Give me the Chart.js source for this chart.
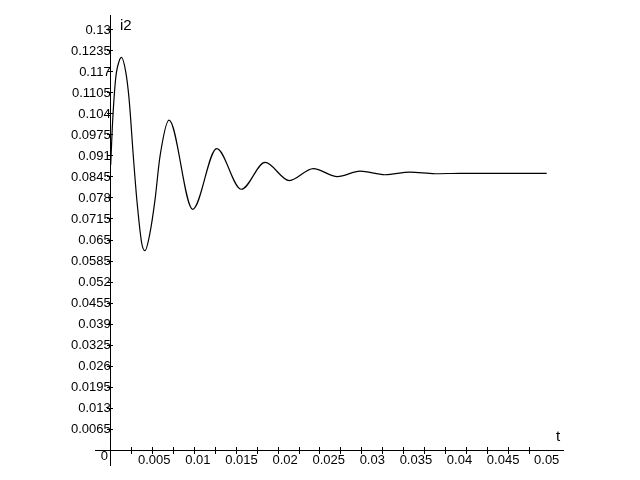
<!DOCTYPE html>
<html>
<head>
<meta charset="utf-8">
<script src="https://cdn.jsdelivr.net/npm/chart.js@4"></script>
<style>
  body { margin: 0; background: #fff; }
  #wrap { width: 640px; height: 480px; }
</style>
</head>
<body>
<div id="wrap"><canvas id="plot" width="640" height="480"></canvas></div>
<script>
const T_VALUES = [0, 0.00018, 0.00057, 0.00095, 0.00124, 0.00172, 0.0021, 0.00262, 0.003, 0.00356,
  0.00393, 0.0045, 0.00508, 0.00565, 0.00669, 0.0094, 0.01216, 0.01498, 0.0177, 0.02048,
  0.02323, 0.026, 0.0286, 0.03146, 0.03432, 0.0372, 0.040, 0.05];
const I2_VALUES = [0.0882, 0.0996, 0.1150, 0.1202, 0.1215, 0.1171, 0.1089, 0.0900, 0.0774, 0.0640,
  0.0617, 0.0671, 0.0774, 0.0908, 0.1021, 0.0745, 0.0933, 0.0807, 0.0890, 0.0834,
  0.0871, 0.0846, 0.0863, 0.0852, 0.0860, 0.0855, 0.08565, 0.08565];

const Y_TICK_LABELS = ['0.0065', '0.013', '0.0195', '0.026', '0.0325', '0.039', '0.0455', '0.052',
  '0.0585', '0.065', '0.0715', '0.078', '0.0845', '0.091', '0.0975', '0.104', '0.1105', '0.117',
  '0.1235', '0.13'];
const X_TICK_LABELS = ['0.005', '0.01', '0.015', '0.02', '0.025', '0.03', '0.035', '0.04', '0.045', '0.05'];

// maple draws its small tick marks on a slightly tighter grid than the labels
const X_MARK_STEP = 0.0024;
const X_MARK_COUNT = 20;

const TICK_FONT = { family: "'Liberation Sans Narrow', 'Liberation Sans', Arial, sans-serif", size: 13 };

const yTicks = Y_TICK_LABELS.map(s => ({ value: parseFloat(s) }));
const xTicks = X_TICK_LABELS.map(s => ({ value: parseFloat(s) }));
const xMarks = [];
for (let k = 1; k <= X_MARK_COUNT; k++) xMarks.push({ value: k * X_MARK_STEP });

const points = T_VALUES.map((t, i) => ({ x: t, y: I2_VALUES[i] }));

const X_MIN = -0.0018, X_MAX = 0.05187;
const Y_MIN = -0.00464, Y_MAX = 0.13464;

const axisTexts = {
  id: 'axisTexts',
  afterDraw(chart) {
    const ctx = chart.ctx;
    ctx.save();
    ctx.fillStyle = '#000';
    ctx.font = "15px 'Liberation Sans', Arial, sans-serif";
    ctx.textBaseline = 'alphabetic';
    ctx.textAlign = 'left';
    ctx.fillText('i2', 120, 30);
    ctx.fillText('t', 556, 441);
    ctx.font = "13px 'Liberation Sans Narrow', 'Liberation Sans', Arial, sans-serif";
    ctx.textAlign = 'right';
    ctx.fillText('0', 108, 460);
    ctx.restore();
  }
};

function markAxis(len, ticks, id) {
  const horizontal = id.startsWith('x');
  return {
    type: 'linear',
    min: horizontal ? X_MIN : Y_MIN,
    max: horizontal ? X_MAX : Y_MAX,
    position: horizontal ? { y: 0 } : { x: 0 },
    afterBuildTicks: s => { s.ticks = ticks.map(t => ({ value: t.value })); },
    ticks: { display: false },
    grid: { drawOnChartArea: false, tickLength: len, color: '#000', lineWidth: 1 },
    border: { display: false },
  };
}

new Chart(document.getElementById('plot'), {
  type: 'line',
  data: {
    datasets: [{
      data: points,
      borderColor: '#000',
      borderWidth: 1.2,
      pointRadius: 0,
      fill: false,
      cubicInterpolationMode: 'monotone',
    }],
  },
  options: {
    responsive: false,
    animation: false,
    layout: { padding: { left: 95, right: 77, top: 15, bottom: 15 } },
    plugins: { legend: { display: false }, tooltip: { enabled: false } },
    scales: {
      x: {
        type: 'linear',
        min: X_MIN,
        max: X_MAX,
        position: { y: 0 },
        afterBuildTicks: s => { s.ticks = xMarks.map(t => ({ value: t.value })); },
        ticks: { display: false },
        grid: { drawOnChartArea: false, tickLength: 3, color: '#000' },
        border: { color: '#000', width: 1 },
      },
      xUp: markAxis(-3, xMarks, 'xUp'),
      xLabels: {
        type: 'linear',
        min: X_MIN,
        max: X_MAX,
        position: { y: 0 },
        afterBuildTicks: s => { s.ticks = xTicks.map(t => ({ value: t.value })); },
        ticks: {
          autoSkip: false,
          maxRotation: 0,
          padding: 3,
          color: '#000',
          font: TICK_FONT,
          callback: (v, i) => X_TICK_LABELS[i],
        },
        grid: { display: false, drawTicks: false },
        border: { display: false },
      },
      y: {
        type: 'linear',
        min: Y_MIN,
        max: Y_MAX,
        position: { x: 0 },
        afterBuildTicks: s => { s.ticks = yTicks.map(t => ({ value: t.value })); },
        ticks: {
          autoSkip: false,
          padding: 2,
          color: '#000',
          font: TICK_FONT,
          callback: (v, i) => Y_TICK_LABELS[i],
        },
        grid: { drawOnChartArea: false, tickLength: 3, color: '#000' },
        border: { color: '#000', width: 1 },
      },
      yRight: markAxis(-2, yTicks, 'yRight'),
    },
  },
  plugins: [axisTexts],
});
</script>
</body>
</html>
